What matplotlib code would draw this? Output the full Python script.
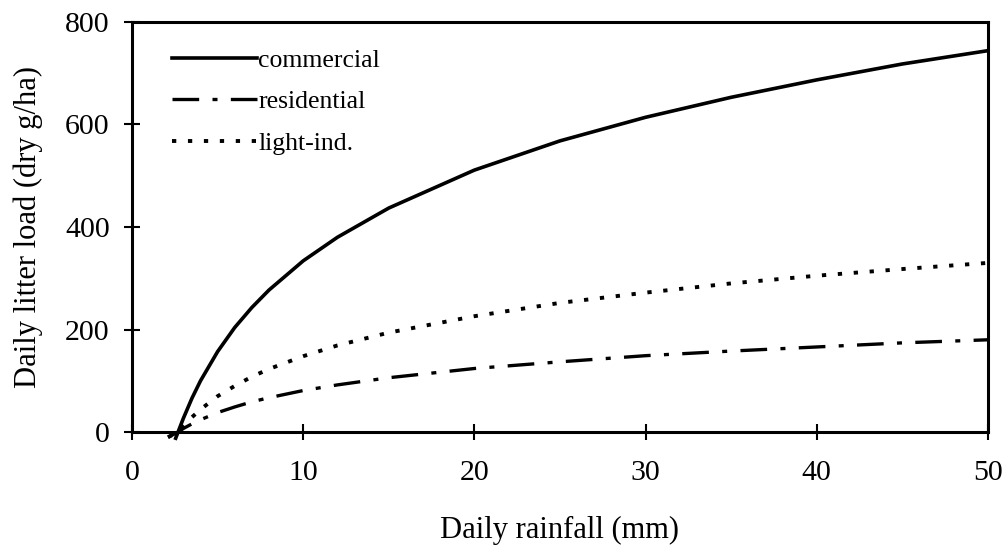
import matplotlib
matplotlib.use("Agg")
import matplotlib.pyplot as plt

rain_com = [2.55, 3, 3.5, 4, 5, 6, 7, 8, 10, 12, 15, 20, 25, 30, 35, 40, 45, 50]
load_com = [-12, 27, 66, 100, 157, 204, 243, 277, 334, 380, 437, 511, 568, 614, 653, 687, 718, 744]

rain_oth = [2.1, 2.7, 3, 3.5, 4, 5, 6, 7, 8, 10, 12, 15, 20, 25, 30, 35, 40, 45, 50]
load_res = [-10, 0, 7, 16, 24, 38, 49, 59, 67, 81, 92, 106, 124, 137, 149, 158, 166, 174, 180]
load_lig = [-10, 0, 12, 29, 44, 70, 90, 108, 123, 148, 169, 194, 226, 252, 272, 290, 305, 318, 330]

labels = ["commercial", "residential", "light-ind."]
x_ticks = [0, 10, 20, 30, 40, 50]
y_ticks = [0, 200, 400, 600, 800]

plt.rcParams['font.family'] = ['Liberation Serif', 'DejaVu Serif']

fig = plt.figure(figsize=(10.08, 5.49), dpi=100)
ax = fig.add_axes([0.131, 0.213, 0.849, 0.747])

ax.plot(rain_com, load_com, color='black', lw=2.6, label=labels[0], clip_on=False)
ax.plot(rain_oth, load_res, color='black', lw=2.4, dashes=(8, 4, 1.5, 4), label=labels[1], clip_on=False)
ax.plot(rain_oth, load_lig, color='black', lw=2.8, dashes=(1.1, 3.0), label=labels[2], clip_on=False)

ax.set_xlim(0, 50)
ax.set_ylim(0, 800)
ax.set_xticks(x_ticks)
ax.set_yticks(y_ticks)
ax.tick_params(direction='inout', length=12, width=1.5, labelsize=21.5, pad=10)
ax.tick_params(axis='x', pad=14)
for s in ax.spines.values():
    s.set_linewidth(2.2)

ax.set_xlabel("Daily rainfall (mm)", fontsize=22, labelpad=22)
ax.set_ylabel("Daily litter load (dry g/ha)", fontsize=22, labelpad=16)

leg = ax.legend(loc='upper left', frameon=False, fontsize=18.5, handlelength=3.3,
                handletextpad=0.05, labelspacing=0.72, borderaxespad=0,
                bbox_to_anchor=(0.035, 0.96))

fig.savefig("out.png", dpi=100)
